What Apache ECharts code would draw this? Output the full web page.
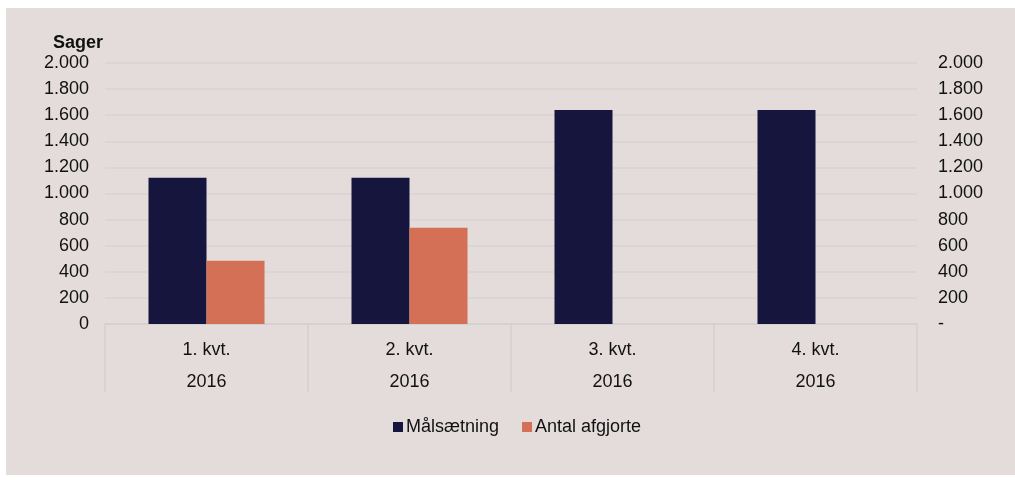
<!DOCTYPE html>
<html>
<head>
<meta charset="utf-8">
<script src="https://cdn.jsdelivr.net/npm/echarts@6/dist/echarts.min.js"></script>
<style>
html,body{margin:0;padding:0;background:#ffffff;}
#bg{position:absolute;left:6px;top:8px;width:1009px;height:467px;background:#e3dcdb;}
#chart{position:absolute;left:0;top:0;width:1015px;height:480px;}
</style>
</head>
<body>
<div id="bg"></div>
<div id="chart"></div>
<script>
const quarters = ['1. kvt.', '2. kvt.', '3. kvt.', '4. kvt.'];
const years = ['2016', '2016', '2016', '2016'];
const maalsaetning = [1120, 1120, 1640, 1640];
const afgjorte = [485, 738, null, null];
const seriesNames = ['Målsætning', 'Antal afgjorte'];

const categories = quarters.map((q, i) => q + '\n' + years[i]);
const fmt = v => v >= 1000 ? Math.floor(v / 1000) + '.' + String(v % 1000).padStart(3, '0') : String(v);

const chart = echarts.init(document.getElementById('chart'), null, {renderer: 'canvas'});
const FF = 'Liberation Sans, Arial, sans-serif';
const axisFont = {color: '#111111', fontSize: 18, fontFamily: FF};
chart.setOption({
  backgroundColor: 'transparent',
  animation: false,
  title: {
    text: 'Sager', left: 48, top: 29,
    textStyle: {fontSize: 18, fontWeight: 'bold', color: '#111111', fontFamily: FF}
  },
  legend: {
    data: seriesNames, bottom: 39, left: 388,
    itemWidth: 10, itemHeight: 10, itemGap: 23, icon: 'rect',
    textStyle: {fontSize: 18, color: '#111111', fontFamily: FF, padding: [0, 0, 0, -2]}
  },
  grid: {left: 105, right: 98, top: 63, bottom: 156, containLabel: false},
  xAxis: {
    type: 'category', data: categories,
    axisLine: {show: true, lineStyle: {color: '#d4cfcf', width: 1.5}},
    axisTick: {show: true, length: 68, interval: 0, lineStyle: {color: '#d4cfcf', width: 1.5}},
    axisLabel: Object.assign({interval: 0, lineHeight: 32, margin: 10}, axisFont)
  },
  yAxis: [
    {
      type: 'value', min: 0, max: 2000, interval: 200, position: 'left',
      axisLine: {show: false}, axisTick: {show: false},
      splitLine: {show: true, lineStyle: {color: '#d8d3d3', width: 1.5}},
      axisLabel: Object.assign({margin: 16, formatter: fmt}, axisFont)
    },
    {
      type: 'value', min: 0, max: 2000, interval: 200, position: 'right',
      axisLine: {show: false}, axisTick: {show: false}, splitLine: {show: false},
      axisLabel: Object.assign({margin: 21, align: 'left', formatter: v => v === 0 ? '-' : fmt(v)}, axisFont)
    }
  ],
  series: [
    {name: seriesNames[0], type: 'bar', data: maalsaetning, barWidth: 58, barGap: '0%',
     itemStyle: {color: '#15153e'}},
    {name: seriesNames[1], type: 'bar', data: afgjorte, barWidth: 58, barGap: '0%',
     itemStyle: {color: '#d37055'}}
  ]
});
</script>
</body>
</html>
